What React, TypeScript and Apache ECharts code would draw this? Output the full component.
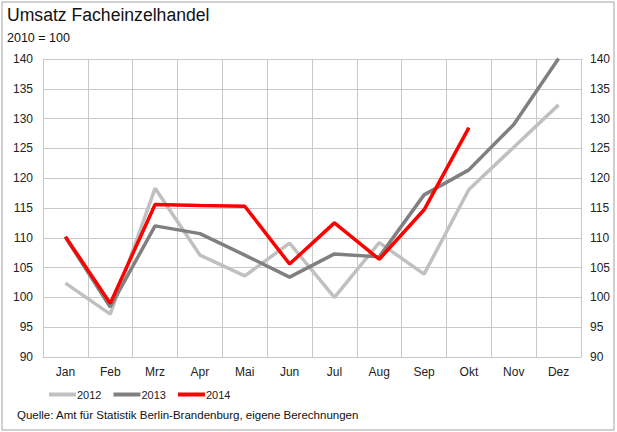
import React, { useEffect, useRef } from "react";
import * as echarts from "echarts";

const months = ["Jan", "Feb", "Mrz", "Apr", "Mai", "Jun", "Jul", "Aug", "Sep", "Okt", "Nov", "Dez"];
const values2012 = [102.4, 97.2, 118.3, 107.1, 103.6, 109.1, 100.0, 109.2, 103.9, 118.1, 125.2, 132.3];
const values2013 = [110.1, 98.4, 112.0, 110.7, 107.1, 103.4, 107.3, 106.8, 117.2, 121.4, 129.0, 140.1];
const values2014 = [110.2, 99.0, 115.6, 115.4, 115.3, 105.6, 112.5, 106.4, 114.7, 128.5];
const yTicks = { min: 90, max: 140, interval: 5 };

const FONT = "Liberation Sans, Arial, sans-serif";

export default function App() {
  const ref = useRef<HTMLDivElement>(null);
  useEffect(() => {
    if (!ref.current) return;
    const chart = echarts.init(ref.current, undefined, { renderer: "svg" });
    const axisLabel = { color: "#222", fontSize: 12, fontFamily: FONT };
    const gridLine = { lineStyle: { color: "#c8c8c8", width: 1 } };
    chart.setOption({
      animation: false,
      backgroundColor: "#fff",
      textStyle: { fontFamily: FONT },
      grid: { left: 43, right: 36, top: 59, bottom: 75 },
      graphic: [
        { type: "rect", shape: { x: 2, y: 2, width: 612, height: 428 }, style: { fill: "none", stroke: "#d0d0d0", lineWidth: 2 }, silent: true },
        { type: "text", left: 7, top: 6, style: { text: "Umsatz Facheinzelhandel", fontSize: 17.6, fontFamily: FONT, fill: "#111" } },
        { type: "text", left: 7, top: 31, style: { text: "2010 = 100", fontSize: 12.5, fontFamily: FONT, fill: "#111" } },
        { type: "text", left: 17, top: 409, style: { text: "Quelle: Amt für Statistik Berlin-Brandenburg, eigene Berechnungen", fontSize: 11.5, fontFamily: FONT, fill: "#111" } },
      ],
      legend: {
        left: 44,
        top: 384,
        icon: "rect",
        itemWidth: 27,
        itemHeight: 4,
        itemGap: 12,
        textStyle: { fontSize: 11, fontFamily: FONT, color: "#222", padding: [2, 0, 0, -4] },
        data: ["2012", "2013", "2014"],
      },
      xAxis: {
        type: "category",
        data: months,
        boundaryGap: true,
        axisLine: { show: true, lineStyle: { color: "#c8c8c8" } },
        axisTick: { show: false },
        axisLabel: { ...axisLabel, margin: 9 },
        splitLine: { show: true, ...gridLine },
      },
      yAxis: [
        {
          type: "value",
          ...yTicks,
          position: "left",
          axisLine: { show: true, lineStyle: { color: "#c8c8c8" } },
          axisTick: { show: false },
          axisLabel: { ...axisLabel, margin: 10 },
          splitLine: { show: true, ...gridLine },
        },
        {
          type: "value",
          ...yTicks,
          position: "right",
          axisLine: { show: true, lineStyle: { color: "#c8c8c8" } },
          axisTick: { show: false },
          axisLabel: { ...axisLabel, margin: 9 },
          splitLine: { show: false },
        },
      ],
      series: [
        { name: "2012", type: "line", data: values2012, symbol: "none", lineStyle: { color: "#c0c0c0", width: 3.5 }, itemStyle: { color: "#c0c0c0" } },
        { name: "2013", type: "line", data: values2013, symbol: "none", lineStyle: { color: "#808080", width: 3.5 }, itemStyle: { color: "#808080" } },
        { name: "2014", type: "line", data: values2014, symbol: "none", lineStyle: { color: "#ff0000", width: 3.5 }, itemStyle: { color: "#ff0000" } },
      ],
    });
    return () => chart.dispose();
  }, []);
  return <div ref={ref} style={{ width: 617, height: 432, position: "absolute", left: 0, top: 0 }} />;
}
